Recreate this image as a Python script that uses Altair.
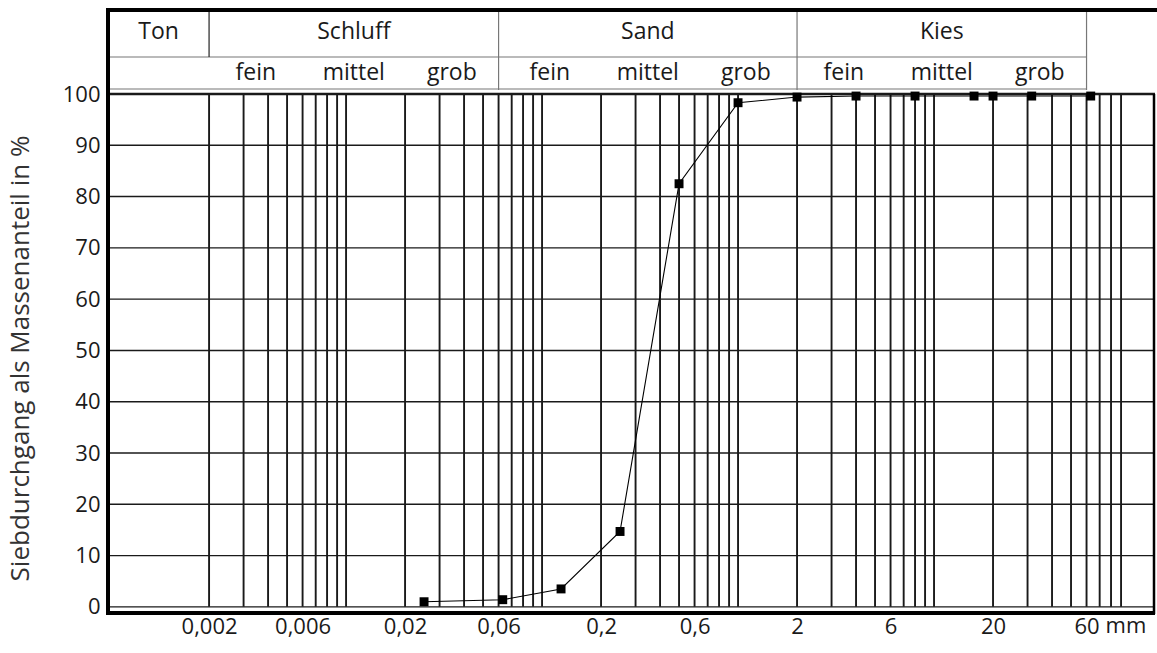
import altair as alt
import numpy as np
import pandas as pd

# Sieve analysis: grain diameter (mm) and passing fraction (% by mass)
grain_mm = [0.025, 0.063, 0.125, 0.25, 0.5, 1.0, 2.0, 4.0, 8.0, 16.0, 20.0, 31.5, 63.0]
passing_pct = [1.0, 1.4, 3.5, 14.7, 82.5, 98.3, 99.4, 99.6, 99.6, 99.6, 99.6, 99.6, 99.6]

# Axis labels
x_tick_mm = [0.002, 0.006, 0.02, 0.06, 0.2, 0.6, 2, 6, 20, 60]
y_tick_pct = [0, 10, 20, 30, 40, 50, 60, 70, 80, 90, 100]

# Log-paper rulings: 2..9 x 10^k mm from 0.002 mm up to 90 mm
grid_mm = [0.002, 0.003, 0.004, 0.005, 0.006, 0.007, 0.008, 0.009,
           0.01, 0.02, 0.03, 0.04, 0.05, 0.06, 0.07, 0.08, 0.09,
           0.1, 0.2, 0.3, 0.4, 0.5, 0.6, 0.7, 0.8, 0.9,
           1, 2, 3, 4, 5, 6, 7, 8, 9,
           10, 20, 30, 40, 50, 60, 70, 80, 90]

# Soil classes (DIN 4022 style header)
X_MIN, X_MAX = 0.00061, 134.1
main_names = ["Ton", "Schluff", "Sand", "Kies"]
main_lo = [X_MIN, 0.002, 0.06, 2]
main_hi = [0.002, 0.06, 2, 60]
sub_names = ["fein", "mittel", "grob"] * 3
sub_lo = [0.002, 0.006, 0.02, 0.06, 0.2, 0.6, 2, 6, 20]
sub_hi = [0.006, 0.02, 0.06, 0.2, 0.6, 2, 6, 20, 60]

# ---------------------------------------------------------------- layout
W, H = 1047, 602          # plot frame incl. header
HDR = 84                  # header height above the 100 % line
Y_MIN = -1.0
Y_MAX = 100 + HDR * (100 - Y_MIN) / (H - HDR)

FONT = "Open Sans"
INK = "#1a1a1a"
xs = alt.Scale(type="log", domain=[X_MIN, X_MAX], nice=False)
ys = alt.Scale(domain=[Y_MIN, Y_MAX], nice=False, zero=False)

# one shared axis definition per channel, reused by every layer
X_AXIS = alt.Axis(
    values=x_tick_mm, title=None, grid=False, ticks=False, domain=False,
    labelExpr="replace(toString(datum.value), '.', ',')",
    labelFont=FONT, labelFontSize=22, labelPadding=4, labelColor=INK,
    labelOverlap=False, labelFlush=False)
Y_AXIS = alt.Axis(
    values=y_tick_pct, title="Siebdurchgang als Massenanteil in %",
    grid=False, ticks=False, domain=False,
    labelFont=FONT, labelFontSize=22, labelPadding=8, labelColor=INK,
    titleFont=FONT, titleFontSize=26, titleFontWeight="normal",
    titleColor="#333", titleX=-88, titleY=348, titleBaseline="middle")


def X(field):
    return alt.X(field, scale=xs, axis=X_AXIS)


def Y(field):
    return alt.Y(field, scale=ys, axis=Y_AXIS)


sieve = pd.DataFrame({"d": grain_mm, "p": passing_pct})
grid_v = pd.DataFrame({"d": grid_mm, "lo": 0, "hi": 100})
grid_h = pd.DataFrame({"v": y_tick_pct})
main_df = pd.DataFrame({"name": main_names, "lo": main_lo, "hi": main_hi})
main_df["c"] = np.sqrt(main_df["lo"] * main_df["hi"])
sub_df = pd.DataFrame({"name": sub_names, "lo": sub_lo, "hi": sub_hi})
sub_df["c"] = np.sqrt(sub_df["lo"] * sub_df["hi"])
span_df = pd.DataFrame({"lo": [X_MIN], "hi": [60]})
one = pd.DataFrame({"k": [0]})

# horizontal grid (10 % steps)
hgrid = alt.Chart(grid_h).mark_rule(color=INK).encode(
    y=Y("v:Q"),
    strokeWidth=alt.condition(alt.datum.v == 100, alt.value(2.6), alt.value(1.4)),
)

# vertical log grid
vgrid = alt.Chart(grid_v).mark_rule(color=INK, strokeWidth=1.9).encode(
    x=X("d:Q"), y=Y("lo:Q"), y2="hi:Q")

unit = alt.Chart(pd.DataFrame({"d": [60], "t": ["mm"]})).mark_text(
    align="left", baseline="top", dx=19, dy=4, font=FONT, fontSize=22, color=INK
).encode(x=X("d:Q"), y=alt.value(H), text="t:N")

# grading curve
curve = alt.Chart(sieve).mark_line(color="black", strokeWidth=1.1).encode(
    x=X("d:Q"), y=Y("p:Q"))
dots = alt.Chart(sieve).mark_point(
    shape="square", filled=True, size=80, color="black", opacity=1
).encode(x=X("d:Q"), y=Y("p:Q"))

# frame
frame_left = alt.Chart(one).mark_rule(color="black", strokeWidth=4).encode(
    x=alt.value(0), y=alt.value(-2), y2=alt.value(H + 3))
frame_top = alt.Chart(one).mark_rule(color="black", strokeWidth=4).encode(
    y=alt.value(0), x=alt.value(-2), x2=alt.value(W + 2))
frame_bottom = alt.Chart(one).mark_rule(color="black", strokeWidth=4).encode(
    y=alt.value(H + 1), x=alt.value(-2), x2=alt.value(W))
frame_right = alt.Chart(one).mark_rule(color="black", strokeWidth=2.5).encode(
    x=alt.value(W - 1), y=alt.value(HDR), y2=alt.value(H + 2))

# header table
row_split = alt.Chart(span_df).mark_rule(color="#777", strokeWidth=1.2).encode(
    x=X("lo:Q"), x2="hi:Q", y=alt.value(47))
row_bottom = alt.Chart(span_df).mark_rule(color="#777", strokeWidth=1.2).encode(
    x=X("lo:Q"), x2="hi:Q", y=alt.value(79))
sep_top = alt.Chart(main_df[main_df["name"] == "Ton"]).mark_rule(
    color="#333", strokeWidth=1.3).encode(
    x=X("hi:Q"), y=alt.value(0), y2=alt.value(47))
sep_full = alt.Chart(main_df[main_df["name"] != "Ton"]).mark_rule(
    color="#777", strokeWidth=1.2).encode(
    x=X("hi:Q"), y=alt.value(0), y2=alt.value(80))
main_txt = alt.Chart(main_df).mark_text(
    font=FONT, fontSize=23, color=INK, baseline="middle").encode(
    x=X("c:Q"), y=alt.value(22), text="name:N")
sub_txt = alt.Chart(sub_df).mark_text(
    font=FONT, fontSize=23, color=INK, baseline="middle").encode(
    x=X("c:Q"), y=alt.value(63), text="name:N")

chart = alt.layer(
    hgrid, vgrid, row_split, row_bottom, sep_top, sep_full, main_txt, sub_txt,
    curve, dots, unit, frame_left, frame_top, frame_bottom, frame_right,
).properties(
    width=W, height=H, autosize=alt.AutoSizeParams(type="none"),
    padding={"left": 108, "top": 10, "right": 2, "bottom": 41},
    background="white",
).configure_view(stroke=None)

chart.save("out.html", embed_options={"renderer": "svg", "actions": False})
